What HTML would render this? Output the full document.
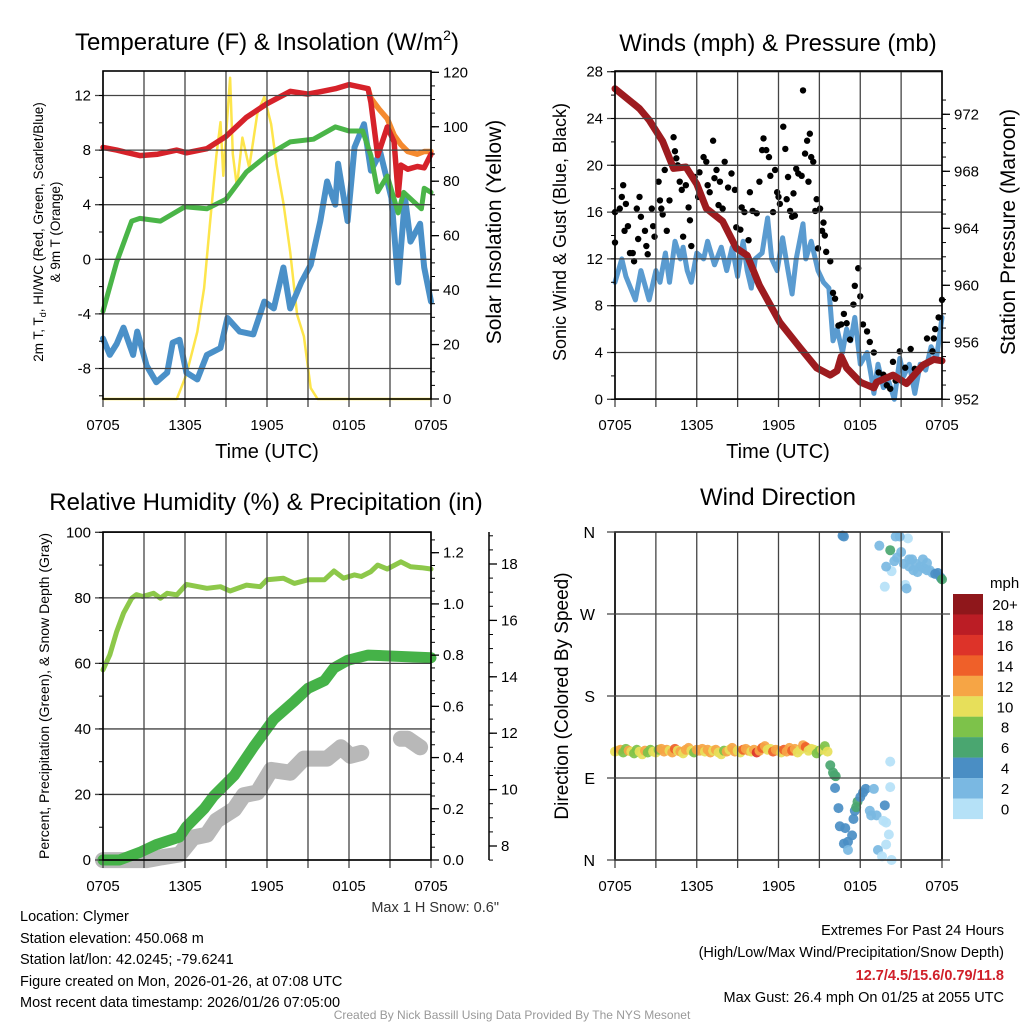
<!DOCTYPE html>
<html><head><meta charset="utf-8">
<style>
html,body{margin:0;padding:0;background:#fff;}
svg{display:block;font-family:"Liberation Sans",Arial,sans-serif;}
</style></head>
<body>
<svg id="chart" width="1024" height="1024" viewBox="0 0 1024 1024" xmlns="http://www.w3.org/2000/svg">
<g id="layer-data"></g>
<g id="layer-frame"></g>
<g fill="#000">
<text x="267" y="50" font-size="24" text-anchor="middle">Temperature (F) &amp; Insolation (W/m<tspan font-size="14" dy="-10">2</tspan><tspan dy="10">)</tspan></text>
<text x="778" y="51" font-size="24" text-anchor="middle">Winds (mph) &amp; Pressure (mb)</text>
<text x="266" y="510" font-size="24" text-anchor="middle">Relative Humidity (%) &amp; Precipitation (in)</text>
<text x="778" y="505" font-size="24" text-anchor="middle">Wind Direction</text>
<text x="267" y="458" font-size="20" text-anchor="middle">Time (UTC)</text>
<text x="778" y="458" font-size="20" text-anchor="middle">Time (UTC)</text>
<text transform="translate(43,232) rotate(-90)" font-size="13.5" text-anchor="middle">2m T, T<tspan font-size="9" dy="3">d</tspan><tspan dy="-3">, HI/WC (Red, Green, Scarlet/Blue)</tspan></text>
<text transform="translate(60,232) rotate(-90)" font-size="13.5" text-anchor="middle">&amp; 9m T (Orange)</text>
<text transform="translate(501,232) rotate(-90)" font-size="21" text-anchor="middle">Solar Insolation (Yellow)</text>
<text transform="translate(566,232) rotate(-90)" font-size="18" text-anchor="middle">Sonic Wind &amp; Gust (Blue, Black)</text>
<text transform="translate(1015,232) rotate(-90)" font-size="21" text-anchor="middle">Station Pressure (Maroon)</text>
<text transform="translate(49,696) rotate(-90)" font-size="14" text-anchor="middle">Percent, Precipitation (Green), &amp; Snow Depth (Gray)</text>
<text transform="translate(568,696) rotate(-90)" font-size="19" text-anchor="middle">Direction (Colored By Speed)</text>
<text x="499" y="912" font-size="14.5" text-anchor="end" fill="#333">Max 1 H Snow: 0.6"</text>
</g>
<g font-size="14.5" fill="#000">
<text x="20" y="921">Location: Clymer</text>
<text x="20" y="943">Station elevation: 450.068 m</text>
<text x="20" y="964">Station lat/lon: 42.0245; -79.6241</text>
<text x="20" y="986">Figure created on Mon, 2026-01-26, at 07:08 UTC</text>
<text x="20" y="1007">Most recent data timestamp: 2026/01/26 07:05:00</text>
<text x="1004" y="935" text-anchor="end">Extremes For Past 24 Hours</text>
<text x="1004" y="957" text-anchor="end">(High/Low/Max Wind/Precipitation/Snow Depth)</text>
<text x="1004" y="980" text-anchor="end" fill="#d0202a" font-weight="bold">12.7/4.5/15.6/0.79/11.8</text>
<text x="1004" y="1002" text-anchor="end">Max Gust: 26.4 mph On 01/25 at 2055 UTC</text>
<text x="512" y="1019" text-anchor="middle" font-size="12" fill="#999">Created By Nick Bassill Using Data Provided By The NYS Mesonet</text>
</g>
</svg>
<script>
// ---------- data (hours since 0705 UTC) ----------
const timeTickLabels = ["0705","1305","1905","0105","0705"];
// Panel 1
const tempHours = [0,1,2.7,4,5.4,6.1,7.6,9,10.5,12,13.7,15,16,17,18,19.4,19.6,20.1,20.8,21.3,21.6,21.8,22.3,23,23.5,24];
const tempRed   = [8.2,8,7.6,7.7,8.0,7.8,8.1,9.0,10.4,11.4,12.3,12.1,12.3,12.5,12.8,12.5,11.5,7.6,9.7,8.6,4.7,6.9,6.6,6.8,6.7,7.7];
const orangeHours = [19.4,19.6,20.2,20.8,21.3,21.8,22.3,23,23.5,24];
const tempOrange  = [12.5,11.8,11.0,10.3,9.1,8.4,7.9,7.7,7.9,7.9];
const dewHours = [0,1,2.1,2.7,4.2,6,7.6,9,10.5,12,13.7,15.4,17,18,19,19.6,20.1,20.8,21.6,22,23.3,23.5,24];
const dewGreen = [-3.8,-0.2,2.8,3.0,2.8,3.85,3.7,4.4,6.4,7.6,8.6,8.8,9.7,9.4,9.4,7.6,4.95,6.1,3.4,4.9,3.7,5.2,4.9];
const wcHours = [0,0.5,1,1.5,2.2,2.5,3.2,3.9,4.7,5.1,5.6,6.1,6.9,7.6,8.6,9.1,10,11,11.8,12.5,13.2,13.7,14.5,15.2,15.9,16.4,17,17.2,17.9,18.4,19.1,19.6,20.3,21.1,21.6,22.1,22.5,23.2,23.5,24];
const wcBlue  = [-5.8,-7.0,-6.2,-5.0,-7,-5.3,-7.8,-9.0,-8.3,-6.1,-5.9,-8.3,-8.8,-7,-6.5,-4.3,-5.3,-5.5,-3.1,-3.6,-0.6,-3.6,-1.7,-0.4,2.8,5.7,4.0,7.0,2.8,8.2,9.9,6.5,7.8,4.5,-1.7,4.5,1.3,2.6,-0.6,-3.1];
const solarHours = [0,5.4,6.1,6.9,7.4,7.8,8.3,8.6,8.8,9.1,9.3,9.5,9.8,10.2,10.7,11.3,11.8,12.3,12.7,13.2,13.7,14.2,14.7,15.2,15.7,24];
const solarYellow = [0,0,9,24.7,40.7,63,89.5,101.7,82,104,118,90,78,96,85,105,111,101,86,72,54,31,23,4,0,0];
// Panel 2
const presHours = [0,1.8,2.5,3.5,4.3,5.2,6,6.7,7.9,8.9,9.7,10.6,12.1,13.6,14.8,15.8,16.3,16.6,17,18,19,19.2,20.4,21.4,22.6,23.4,24];
const presMaroon = [973.8,972.4,971.6,970.1,968.2,968.3,967.1,965.4,964.5,962.6,962.1,960,957.4,955.6,954.2,953.7,954,955,954.2,953.2,952.8,953.2,953.7,953.1,954.4,954.8,954.7];
const windHours = [0,0.5,0.8,1.5,1.9,2.5,3,3.3,3.7,4,4.4,4.8,5,5.3,5.6,6,6.5,6.8,7.3,7.8,8.2,8.6,9,9.4,9.7,10,10.3,10.8,11.2,11.5,11.9,12.3,12.7,13,13.3,13.8,14,14.4,14.9,15.3,15.7,16,16.3,16.7,17,17.3,17.6,18,18.5,18.8,19,19.3,19.7,20.1,20.5,20.9,21.2,21.6,22,22.4,22.8,23.2,23.6,24];
const windBlue = [10,12,10.5,8.5,11,8.5,11,10,12.5,10,13.5,12,13,11,10,12.5,12,13.5,11.5,13,11,13,10.5,13.5,11,9.5,12,12.5,15.5,12,11,13.8,11,9,12,15,12,13.5,11,10,9.5,5,6,4,6,5,7,3,4,2,0.5,3,1,1.5,0,3.5,2,3,0.5,3,2.5,4.5,3.5,7];
const gustHours = [0,0,0.35,0.6,0.5,0.8,0.7,0.95,1.1,1.3,1.4,1.6,1.8,1.7,1.9,2.2,2.3,2.4,2.7,2.8,2.9,3.2,3.3,3.4,3.5,3.65,3.8,4,4.3,4.4,4.5,4.6,4.75,4.9,5,5.2,5.4,5.5,5.6,5.85,6.1,6.2,6.5,6.7,6.8,6.95,7.2,7.3,7.45,7.6,7.7,7.9,8.05,8.3,8.55,8.8,8.9,9.2,9.3,9.5,9.8,9.9,10.1,10.4,10.6,10.8,10.9,11.1,11.3,11.4,11.6,11.75,11.9,12,12.1,12.35,12.5,12.6,12.7,12.85,13,13.1,13.2,13.3,13.45,13.7,13.8,13.95,14.1,14.2,14.3,14.4,14.55,14.7,14.8,14.9,15.05,15.2,15.3,15.4,15.5,15.8,16,16.15,16.4,16.6,16.8,17,17.25,17.5,17.6,17.85,18,18.2,18.5,18.7,19,19.35,19.7,19.95,20.4,20.9,21.3,21.7,22,22.9,23.3,23.5,23.75,24,23.4,20.6,20.2];
const gustBlack = [13.4,16,16.3,18.3,17.3,16.7,14.4,14.8,12.5,12.5,11.8,16.3,17.3,13.7,15.6,14.4,13.1,12.4,16.3,14.8,13.9,18.6,17,16.3,15.8,19.6,14.4,17,22.4,21.2,20.6,20,18.6,17.9,13.9,18.3,16.4,15.3,13.1,19,17.3,19.4,20.7,20.3,18.3,17.7,22.1,18.9,19.6,16.6,18.6,16.3,20.3,18.1,19.3,17.9,14.7,14.5,16.4,16,13.6,17.7,16.1,15.9,18.6,21.3,22.3,21.3,20.7,19.1,16,19.6,17.7,17.3,16.7,23.3,21.4,17.1,19,16.1,15.6,17.6,15.7,19.7,19.3,19.1,26.4,21,22.1,18.6,22.7,20.7,20.3,16.1,17.1,12.9,16.3,14.4,15.1,14,12.6,11.8,9.1,8.6,6.3,6.4,7.3,6.5,5.1,8.1,9.7,11.2,8.8,6.4,5.8,4.9,4,2.3,2.1,1.2,3.2,4.1,2.7,4.3,2.6,5.2,4.1,6,7,8.5,5.2,1.6,0.9];
// Panel 3
const rhHours = [0,0.5,1,1.5,2.1,2.45,2.9,3.7,4.2,4.7,5.4,6.1,7.6,8.6,9.3,10.5,11.5,12,13.2,14,15,16.2,16.9,17.6,18.4,18.9,19.6,20.1,20.8,21.8,22.5,23.3,24];
const rhValues = [58,62.6,69.7,75.3,79.9,81,80.4,81.4,79.9,81.4,80.9,84.1,82.9,83.4,82.1,83.9,83.4,85.5,86,84.4,85.5,85.5,88.2,86,87,86.5,88,90,88.8,91,89.5,89.2,88.8];
const precipHours = [0,1.2,2.7,3.9,5.6,6.1,7.4,8.1,9.6,11,12.5,14,15,16.2,16.9,17.9,19.4,24];
const precipValues = [0,0,0.03,0.06,0.09,0.13,0.2,0.25,0.33,0.44,0.55,0.62,0.67,0.7,0.75,0.78,0.8,0.79];
const snowHours = [0,3.2,4.3,5.6,6.6,7.6,8.3,9.6,10.3,11.3,12.3,13.7,14.7,16.4,17.4,18.1,18.9,null,21.8,22.3,23.2];
const snowDepth = [7.5,7.5,7.6,7.7,8.3,8.4,8.9,9.3,9.8,9.9,10.7,10.6,11.1,11.1,11.5,11.2,11.3,null,11.8,11.8,11.5];
// Panel 4
const dirHours = [0,0.2,0.4,0.6,0.8,1,1.2,1.4,1.6,1.8,2,2.2,2.4,2.6,2.8,3,3.2,3.4,3.6,3.8,4,4.2,4.4,4.6,4.8,5,5.2,5.4,5.6,5.8,6,6.2,6.4,6.6,6.8,7,7.2,7.4,7.6,7.8,8,8.2,8.4,8.6,8.8,9,9.2,9.4,9.6,9.8,10,10.2,10.4,10.6,10.8,11,11.2,11.4,11.6,11.8,12,12.2,12.4,12.6,12.8,13,13.2,13.4,13.6,13.8,14,14.2,14.4,14.6,14.8,15,15.2,15.4,15.6,
  15.8,16.0,16.1,16.2,16.15,16.4,16.5,16.9,17.4,16.8,17.1,17.1,17.5,17.6,17.7,17.8,18,18.2,18.4,19,18.7,18.8,19.2,19.8,19.7,19.9,20.1,19.9,19.3,19.6,20.3,20.2,20.2,
  16.7,16.8,19.4,19.8,20.3,21.5,20.6,20.9,20.5,20.7,21,21.2,21.6,21.8,22.1,22.4,22.7,22.9,23.1,23.3,23.5,23.7,23.9,24,20.2,19.9,22.6,21.3,21.4,22.2,21.9,21.6,22.9];
const dirDegrees = [119,120,121,118,122,120,119,117,121,119,116,120,118,121,119,118,121,122,119,121,120,118,122,120,119,117,121,123,120,118,121,120,122,119,121,118,120,121,118,116,120,119,121,123,119,120,118,121,122,120,119,121,118,120,123,125,121,122,119,121,120,118,121,119,123,120,122,118,121,126,124,120,122,121,117,120,121,125,119,
  104,96,93,92,79,57,37,35,27,18,20,11,45,54,58,64,69,74,78,78,54,49,49,60,43,41,28,17,11,4,0,80,108,
  356,355,345,300,317,353,355,355,328,332,338,325,322,330,325,322,320,318,318,315,314,315,310,308,340,322,330,302,298,316,318,330,326];
const dirSpeed = [10,11,12,9,8,12,11,9,8,10,10,12,9,8,10,11,9,12,13,12,10,13,14,10,12,11,13,12,10,9,12,13,12,11,13,12,10,12,11,10,9,12,11,13,12,10,11,14,12,13,11,12,16,13,14,12,10,11,15,12,13,11,14,13,12,15,13,11,10,12,14,11,10,11,9,8,10,8,10,
  7,6,6,6,4,4,4,4,4,4,4,3,4,4,6,6,5,4,4,3,3,3,2,4,1,1,1,1,2,1,0,1,0,
  4,4,2,0,0,0,2,2,2,2,2,2,2,2,2,2,2,2,3,3,4,4,4,6,6,2,2,0,2,2,2,2,2];
const speedBandLabels = ["20+","18","16","14","12","10","8","6","4","2","0"];
const speedBandColors = ["#8f171b","#bb1d25","#dd3329","#ef6029","#f6a545","#e7df5a","#7dc24a","#4aa670","#4a8ec4","#7ab8e2","#b5e1f7"];

// ---------- helpers ----------
const NS = "http://www.w3.org/2000/svg";
const dataLayer = document.getElementById("layer-data");
const frameLayer = document.getElementById("layer-frame");
function mk(parent, tag, attrs, name) {
  const el = document.createElementNS(NS, tag);
  for (const k in attrs) el.setAttribute(k, attrs[k]);
  
  
  parent.appendChild(el);
  return el;
}
function linear(d0, d1, r0, r1) { return v => r0 + (v - d0) * (r1 - r0) / (d1 - d0); }
function pathFrom(xs, ys, sx, sy) {
  let d = "", pen = false;
  for (let i = 0; i < xs.length; i++) {
    if (xs[i] === null || ys[i] === null) { pen = false; continue; }
    d += (pen ? "L" : "M") + sx(xs[i]).toFixed(1) + " " + sy(ys[i]).toFixed(1);
    pen = true;
  }
  return d;
}
function drawLine(xs, ys, sx, sy, color, w, name) {
  mk(dataLayer, "path", {d: pathFrom(xs, ys, sx, sy), fill: "none", stroke: color, "stroke-width": w, "stroke-linejoin": "round", "stroke-linecap": "round"}, name);
}
const GRID = "#444";
function panelFrame(p, yTicks, yFmt, yScale, yMin, yMax, minorStep, name) {
  const g = mk(frameLayer, "g", {}, name);
  yTicks.forEach(v => {
    const y = yScale(v);
    mk(g, "line", {x1: p.x0 - 8, x2: p.x1, y1: y, y2: y, stroke: GRID, "stroke-width": 1.3}, "h-gridline");
    const t = mk(g, "text", {x: p.x0 - 12, y: y + 5, "font-size": 15, "text-anchor": "end"}, "y-tick-label");
    t.textContent = yFmt(v);
  });
  if (minorStep) {
    for (let v = Math.ceil(yMin / minorStep) * minorStep; v <= yMax; v += minorStep) {
      mk(g, "line", {x1: p.x0 - 4, x2: p.x0, y1: yScale(v), y2: yScale(v), stroke: "#000", "stroke-width": 1}, "y-minor-tick");
    }
  }
  for (let h = 0; h <= 24; h += 3) {
    const x = p.sx(h);
    mk(g, "line", {x1: x, x2: x, y1: p.y0, y2: p.y1 + 8, stroke: GRID, "stroke-width": 1.3}, "v-gridline");
  }
  timeTickLabels.forEach((lab, i) => {
    const t = mk(g, "text", {x: p.sx(i * 6), y: p.y1 + 31, "font-size": 15, "text-anchor": "middle"}, "x-tick-label");
    t.textContent = lab;
  });
  mk(g, "rect", {x: p.x0, y: p.y0, width: p.x1 - p.x0, height: p.y1 - p.y0, fill: "none", stroke: "#000", "stroke-width": 1.6}, "plot-border");
  return g;
}
function rightAxis(x, y0, y1, ticks, fmt, scale, minorStep, vMin, vMax, name, lineExt) {
  const g = mk(frameLayer, "g", {}, name);
  if (lineExt) mk(g, "line", {x1: x, x2: x, y1: y0, y2: y1, stroke: "#000", "stroke-width": 1.5}, "axis-line");
  ticks.forEach(v => {
    const y = scale(v);
    mk(g, "line", {x1: x, x2: x + 8, y1: y, y2: y, stroke: "#000", "stroke-width": 1.3}, "y-major-tick");
    const t = mk(g, "text", {x: x + 12, y: y + 5, "font-size": 15}, "y2-tick-label");
    t.textContent = fmt(v);
  });
  for (let v = Math.ceil(vMin / minorStep) * minorStep; v <= vMax + 1e-9; v += minorStep) {
    mk(g, "line", {x1: x, x2: x + 4, y1: scale(v), y2: scale(v), stroke: "#000", "stroke-width": 1}, "y-minor-tick");
  }
}

// ---------- panel 1 ----------
const p1 = {x0: 103, x1: 431, y0: 71, y1: 399};
p1.sx = linear(0, 24, p1.x0, p1.x1);
const t1 = linear(0, 12, 259.3, 95.5);
const s1 = linear(0, 120, 399, 72.3);
drawLine(solarHours, solarYellow, p1.sx, s1, "#fde54b", 2.5, "solar-insolation-line");
drawLine(wcHours, wcBlue, p1.sx, t1, "#4a90c8", 6, "heat-index-windchill-line");
drawLine(dewHours, dewGreen, p1.sx, t1, "#4ab548", 5, "dewpoint-line");
drawLine(orangeHours, tempOrange, p1.sx, t1, "#f58a2f", 5.5, "temp-9m-line");
drawLine(tempHours, tempRed, p1.sx, t1, "#d6222a", 5.5, "temp-2m-line");
panelFrame(p1, [-8,-4,0,4,8,12], v => String(v), t1, -10.2, 13.8, 2, "temperature-axes");
rightAxis(p1.x1, p1.y0, p1.y1, [0,20,40,60,80,100,120], v => String(v), s1, 5, 0, 120, "insolation-axis", false);

// ---------- panel 2 ----------
const p2 = {x0: 615, x1: 942, y0: 71, y1: 399};
p2.sx = linear(0, 24, p2.x0, p2.x1);
const w2 = linear(0, 28, 399.3, 71.7);
const pr2 = linear(952, 972, 399.3, 114.3);
drawLine(windHours, windBlue, p2.sx, w2, "#5a9bd0", 5, "sonic-wind-line");
gustHours.forEach((h, i) => {
  mk(dataLayer, "circle", {cx: p2.sx(h), cy: w2(gustBlack[i]), r: 3.2, fill: "#000"}, "gust-point");
});
drawLine(presHours, presMaroon, p2.sx, pr2, "#9d1b1f", 7, "station-pressure-line");
panelFrame(p2, [0,4,8,12,16,20,24,28], v => String(v), w2, 0, 28, 2, "winds-axes");
rightAxis(p2.x1, p2.y0, p2.y1, [952,956,960,964,968,972], v => String(v), pr2, 1, 952, 973.5, "pressure-axis", false);

// ---------- panel 3 ----------
const p3 = {x0: 103, x1: 431, y0: 532, y1: 860};
p3.sx = linear(0, 24, p3.x0, p3.x1);
const r3 = linear(0, 100, 860, 532.3);
const pc3 = linear(0, 1.2, 860, 552.7);
const sn3 = linear(8, 18, 846, 564);
drawLine(snowHours, snowDepth, p3.sx, sn3, "#b8b8b8", 16, "snow-depth-line");
drawLine(precipHours, precipValues, p3.sx, pc3, "#45b248", 11, "precipitation-line");
drawLine(rhHours, rhValues, p3.sx, r3, "#8dc84a", 5, "relative-humidity-line");
panelFrame(p3, [0,20,40,60,80,100], v => String(v), r3, 0, 100, 10, "humidity-axes");
rightAxis(p3.x1, p3.y0, p3.y1, [0,0.2,0.4,0.6,0.8,1.0,1.2], v => v.toFixed(1), pc3, 0.05, 0, 1.27, "precip-axis", false);
rightAxis(489, 532, 860, [8,10,12,14,16,18], v => String(v), sn3, 0.5, 7.5, 19, "snow-axis", true);

// ---------- panel 4 ----------
const p4 = {x0: 615, x1: 942, y0: 532, y1: 860};
p4.sx = linear(0, 24, p4.x0, p4.x1);
const d4 = linear(0, 360, 860, 532);
const dirLabels = ["N","E","S","W","N"];
const g4 = panelFrame(p4, [], v => "", d4, 0, 0, 0, "direction-axes");
dirLabels.forEach((lab, i) => {
  const y = d4(i * 90);
  mk(g4, "line", {x1: p4.x0 - 8, x2: p4.x1 + 8, y1: y, y2: y, stroke: GRID, "stroke-width": 1.3}, "h-gridline");
  const t = mk(g4, "text", {x: p4.x0 - 20, y: y + 6, "font-size": 16, "text-anchor": "end"}, "direction-tick-label");
  t.textContent = lab;
});
dirHours.forEach((h, i) => {
  const band = Math.min(10, Math.floor(dirSpeed[i] / 2));
  mk(dataLayer, "circle", {cx: p4.sx(h), cy: d4(dirDegrees[i]), r: 5, fill: speedBandColors[10 - band], "fill-opacity": 0.92}, "direction-point");
});
const cb = mk(frameLayer, "g", {}, "speed-colorbar");
const cbTitle = mk(cb, "text", {x: 990, y: 588, "font-size": 15}, "colorbar-title");
cbTitle.textContent = "mph";
speedBandLabels.forEach((lab, i) => {
  const y = 594 + i * 20.45;
  mk(cb, "rect", {x: 953, y: y, width: 30, height: 20.6, fill: speedBandColors[i]}, "colorbar-swatch");
  const t = mk(cb, "text", {x: 1005, y: y + 16, "font-size": 15, "text-anchor": "middle"}, "colorbar-label");
  t.textContent = lab;
});
</script>
</body></html>
